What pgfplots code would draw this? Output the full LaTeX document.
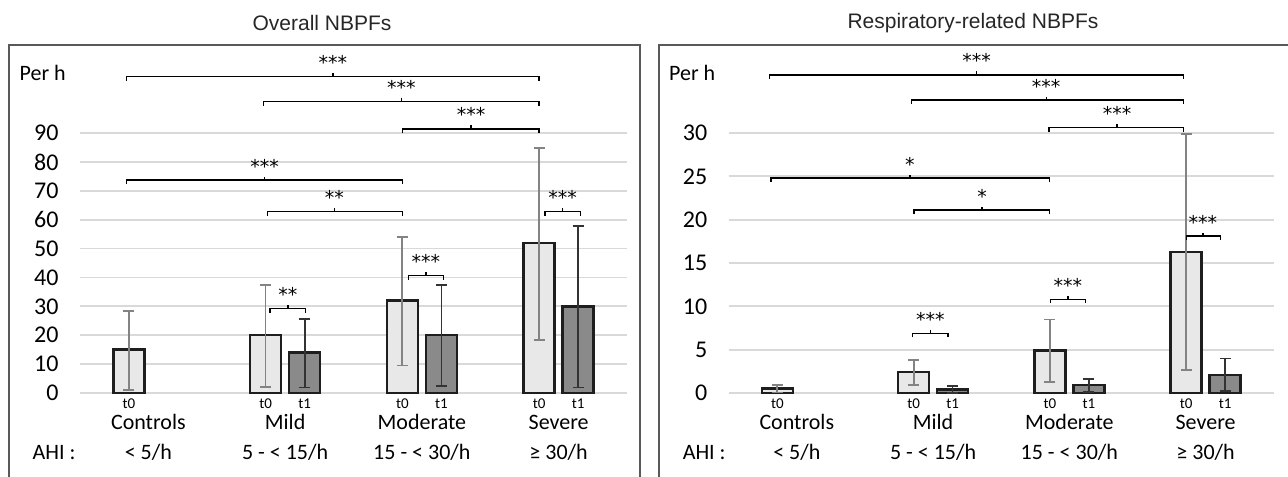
\documentclass[border=0pt]{standalone}
\usepackage{pgfplots}
\usepackage{pgfplotstable}
\pgfplotsset{compat=1.18}
\usepackage{fontspec}
\setmainfont{Carlito}
\newfontfamily\arialfont{Liberation Sans}
\newfontfamily\starfam{DejaVu Sans}
\definecolor{gridc}{HTML}{D9D9D9}
\definecolor{framec}{HTML}{595959}
\definecolor{fillA}{HTML}{E8E8E8}
\definecolor{fillB}{HTML}{8A8A8A}
\definecolor{edgec}{HTML}{1E1E1E}
\definecolor{errA}{HTML}{838383}
\definecolor{errB}{HTML}{333333}
\newcommand\tickfont{\fontsize{24bp}{27bp}\selectfont}
\newcommand\catfont{\fontsize{22bp}{26bp}\selectfont}
\newcommand\smallfont{\fontsize{15bp}{17bp}\selectfont}
\newcommand\starfont{\starfam\fontsize{19bp}{22bp}\selectfont}
\newcommand\titlefont{\arialfont\fontsize{21bp}{24bp}\selectfont}

% left panel data: x (bar centre) y error+ error-
\pgfplotstableread{
x y ep em
-0.143 15 13.4 14.0
0.857 20 17.3 17.8
1.857 32 22.0 22.5
2.857 52 32.9 33.7
}\LtZero
\pgfplotstableread{
x y ep em
1.143 14 11.6 12.1
2.143 20 17.3 17.7
3.143 30 27.7 28.1
}\LtOne
% right panel data
\pgfplotstableread{
x y ep em
-0.143 0.5 0.46 0.45
0.857 2.4 1.38 1.44
1.857 4.9 3.59 3.63
2.857 16.3 13.6 13.64
}\RtZero
\pgfplotstableread{
x y ep em
1.143 0.4 0.37 0.37
2.143 0.9 0.72 0.75
3.143 2.1 1.87 1.91
}\RtOne

\tikzset{brk/.style={draw=black, line width=1.3bp}}
\newcommand\brk[5]{%
  \draw[brk] ([yshift=-4bp]axis cs:#1,#3) -- (axis cs:#1,#3) -- (axis cs:#2,#3) -- ([yshift=-4bp]axis cs:#2,#3);
  \draw[brk] (axis cs:#4,#3) -- ([yshift=3.5bp]axis cs:#4,#3);
  \node[font=\starfont, anchor=base, inner sep=0pt] at ([yshift=7bp]axis cs:#4,#3) {#5};
}
\newcommand\lbl[3]{% x, yshift, text
  \node[anchor=base, inner sep=0pt] at ([yshift=#2]axis cs:#1,0) {#3};
}

\pgfplotsset{
  panel/.style={
    scale only axis, height=260bp,
    xmin=-0.5, xmax=3.5, ymin=0,
    axis line style={draw=none},
    major tick length=0pt,
    xtick={0,1,2,3},
    xticklabels={Controls,Mild,Moderate,Severe},
    xticklabel style={anchor=base, yshift=-37bp, font=\catfont, inner sep=0pt},
    yticklabel style={font=\tickfont, xshift=-18bp},
    /pgf/number format/assume math mode=true,
    ymajorgrids,
    grid style={draw=gridc, line width=1.8bp},
    clip=false,
  },
  barA/.style={ybar, bar width=31bp, bar shift=0pt, fill=fillA, draw=edgec, line width=2.4bp,
    error bars/.cd, y dir=both, y explicit,
    error bar style={line width=1.8bp, draw=errA},
    error mark options={rotate=90, line width=1.8bp, mark size=5.5bp, draw=errA}},
  barB/.style={ybar, bar width=31bp, bar shift=0pt, fill=fillB, draw=edgec, line width=2.4bp,
    error bars/.cd, y dir=both, y explicit,
    error bar style={line width=1.8bp, draw=errB},
    error mark options={rotate=90, line width=1.8bp, mark size=5.5bp, draw=errB}},
}

\begin{document}
\begin{tikzpicture}
\path[use as bounding box] (0,0) rectangle (1288bp,477bp);
\draw[framec, line width=1.4bp] (9bp,-10bp) rectangle (640bp,432bp);
\draw[framec, line width=1.4bp] (659bp,-10bp) rectangle (1300bp,432bp);
\node[font=\titlefont, text=black!85] at (322bp,454bp) {Overall NBPFs};
\node[font=\titlefont, text=black!85] at (973bp,454bp) {Respiratory-related NBPFs};
\node[font=\catfont, anchor=west, inner sep=0pt] at (19.5bp,404bp) {Per h};
\node[font=\catfont, anchor=west, inner sep=0pt] at (669bp,404bp) {Per h};

% ---------------- left panel
\begin{axis}[panel, at={(80bp,84bp)}, anchor=south west, width=547bp,
  ymax=90, ytick={0,10,...,90}]
\addplot[barA] table[x=x, y=y, y error plus=ep, y error minus=em] {\LtZero};
\addplot[barB] table[x=x, y=y, y error plus=ep, y error minus=em] {\LtOne};
\brk{-0.16}{2.857}{109.5}{1.35}{***}
\brk{0.84}{2.857}{100.9}{1.85}{***}
\brk{1.857}{2.857}{91.4}{2.36}{***}
\brk{-0.16}{1.857}{73.7}{0.85}{***}
\brk{0.87}{1.857}{62.8}{1.36}{**}
\brk{2.90}{3.16}{62.8}{3.03}{***}
\brk{1.90}{2.16}{40.6}{2.03}{***}
\brk{0.89}{1.15}{29.2}{1.02}{**}
\begin{scope}[font=\smallfont]
\lbl{-0.143}{-15.5bp}{t0}
\lbl{0.857}{-15.5bp}{t0}\lbl{1.143}{-15.5bp}{t1}
\lbl{1.857}{-15.5bp}{t0}\lbl{2.143}{-15.5bp}{t1}
\lbl{2.857}{-15.5bp}{t0}\lbl{3.143}{-15.5bp}{t1}
\end{scope}
\begin{scope}[font=\catfont]
\lbl{-0.69}{-66bp}{AHI :}
\lbl{0}{-66bp}{< 5/h}
\lbl{1}{-66bp}{5 - < 15/h}
\lbl{2}{-66bp}{15 - < 30/h}
\lbl{3}{-66bp}{≥ 30/h}
\end{scope}
\end{axis}

% ---------------- right panel
\begin{axis}[panel, at={(728.7bp,84bp)}, anchor=south west, width=545bp,
  ymax=30, ytick={0,5,...,30}]
\addplot[barA] table[x=x, y=y, y error plus=ep, y error minus=em] {\RtZero};
\addplot[barB] table[x=x, y=y, y error plus=ep, y error minus=em] {\RtOne};
\brk{-0.2}{2.84}{36.7}{1.32}{***}
\brk{0.84}{2.84}{33.8}{1.83}{***}
\brk{1.85}{2.84}{30.6}{2.35}{***}
\brk{-0.19}{1.855}{24.8}{0.83}{*}
\brk{0.86}{1.855}{21.1}{1.36}{*}
\brk{2.86}{3.11}{18.1}{2.98}{***}
\brk{1.86}{2.12}{10.8}{1.99}{***}
\brk{0.85}{1.11}{6.87}{0.98}{***}
\begin{scope}[font=\smallfont]
\lbl{-0.143}{-15.5bp}{t0}
\lbl{0.857}{-15.5bp}{t0}\lbl{1.143}{-15.5bp}{t1}
\lbl{1.857}{-15.5bp}{t0}\lbl{2.143}{-15.5bp}{t1}
\lbl{2.857}{-15.5bp}{t0}\lbl{3.143}{-15.5bp}{t1}
\end{scope}
\begin{scope}[font=\catfont]
\lbl{-0.68}{-66bp}{AHI :}
\lbl{0}{-66bp}{< 5/h}
\lbl{1}{-66bp}{5 - < 15/h}
\lbl{2}{-66bp}{15 - < 30/h}
\lbl{3}{-66bp}{≥ 30/h}
\end{scope}
\end{axis}
\end{tikzpicture}
\end{document}
